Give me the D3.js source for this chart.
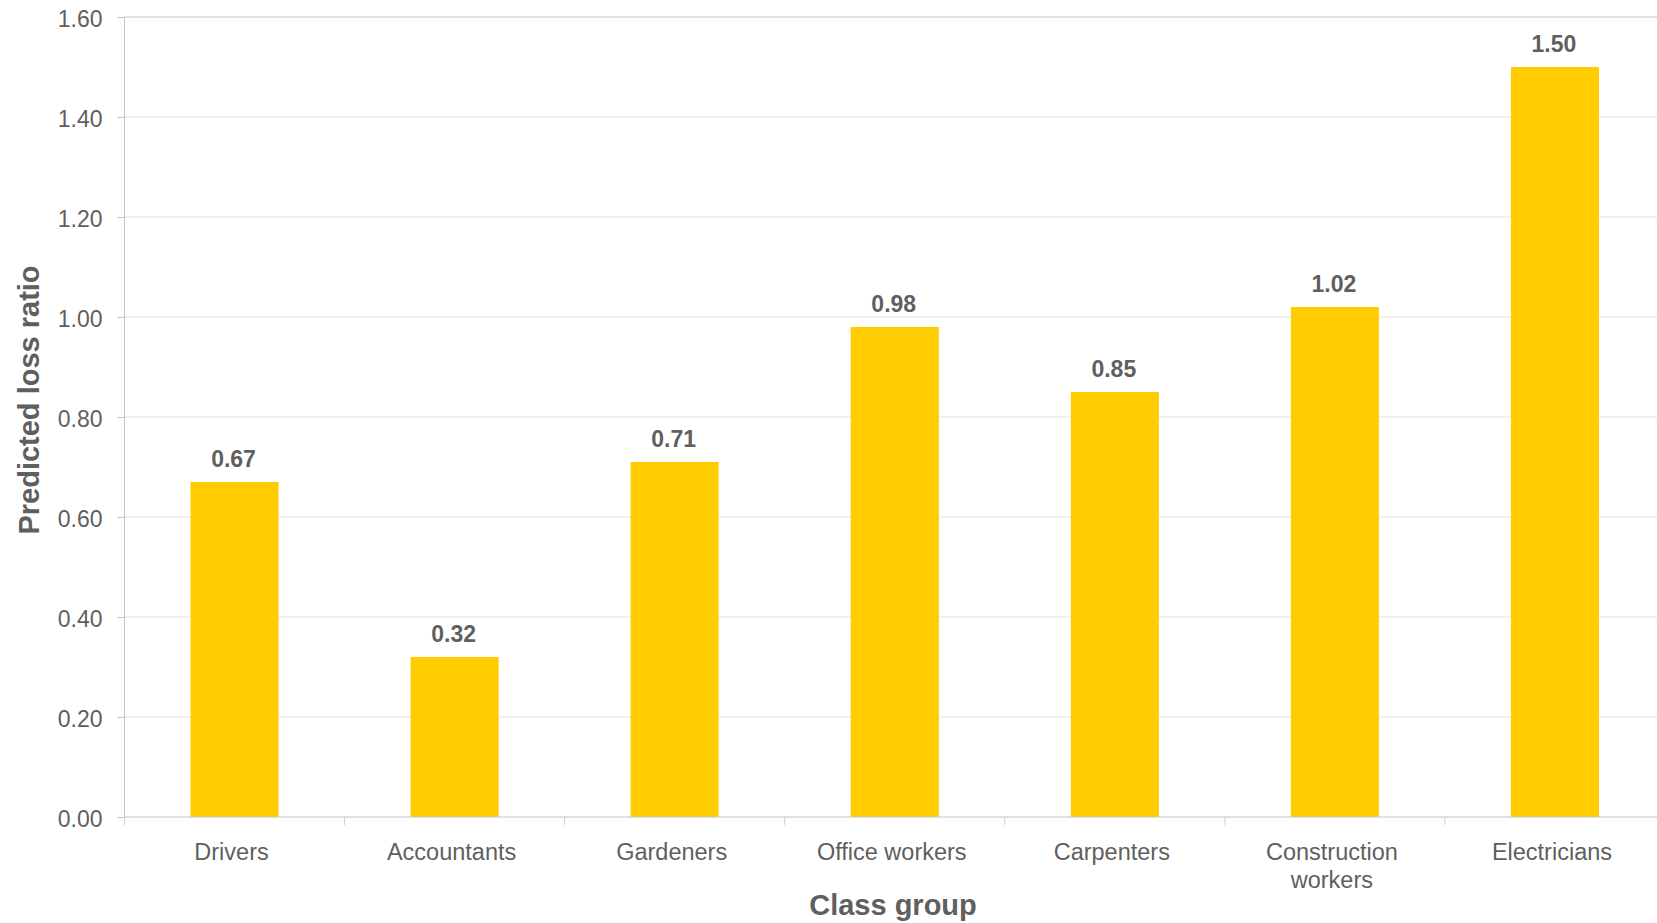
<!DOCTYPE html>
<html lang="en">
<head>
<meta charset="UTF-8">
<title>Predicted loss ratio by class group</title>
<script src="https://d3js.org/d3.v7.min.js"></script>
<style>
  html, body { margin: 0; padding: 0; background: #fff; }
  svg text { font-family: "Liberation Sans", Arial, sans-serif; fill: #5f5f5f; }
</style>
</head>
<body>
<div id="chart"></div>
<script>
    // data
    const categories = ["Drivers", "Accountants", "Gardeners", "Office workers", "Carpenters", "Construction workers", "Electricians"];
    const lossRatio = [0.67, 0.32, 0.71, 0.98, 0.85, 1.02, 1.50];
    const yTicks = [0, 0.2, 0.4, 0.6, 0.8, 1.0, 1.2, 1.4, 1.6];

    const width = 1657, height = 923;
    const plotLeft = 124.5, plotRight = 1665, plotTop = 17, plotBottom = 817;

    const svg = d3.select("#chart").append("svg")
        .attr("width", width)
        .attr("height", height);

    const x = d3.scaleBand().domain(categories).range([plotLeft, plotRight]).padding(0);
    const y = d3.scaleLinear().domain([0, 1.6]).range([plotBottom, plotTop]);

    // gridlines
    svg.append("g")
        .selectAll("line")
        .data(yTicks.slice(1))
        .enter().append("line")
        .attr("x1", plotLeft).attr("x2", width)
        .attr("y1", d => y(d)).attr("y2", d => y(d))
        .attr("stroke", (d, i) => i === yTicks.length - 2 ? "#c4c4c4" : "#e3e3e3")
        .attr("stroke-width", 1);

    // y axis
    const yAxis = svg.append("g")
        .attr("transform", `translate(${plotLeft},0)`)
        .call(d3.axisLeft(y).tickValues(yTicks).tickFormat(d3.format(".2f")).tickSize(7).tickPadding(15));
    yAxis.select(".domain").attr("stroke", "#c4c4c4").attr("d", `M0,${plotTop}V${plotBottom + 8}`);
    yAxis.selectAll(".tick line").attr("stroke", "#c4c4c4");
    yAxis.selectAll(".tick text")
        .attr("font-size", "23px")
        .attr("dy", "0.4em")
        .style("fill", "#5f5f5f");

    // bars
    const barW = x.bandwidth() * 0.4;
    svg.append("g")
        .selectAll("rect")
        .data(categories)
        .enter().append("rect")
        .attr("x", d => x(d) + x.bandwidth() * 0.3)
        .attr("y", (d, i) => y(lossRatio[i]))
        .attr("width", barW)
        .attr("height", (d, i) => y(0) - y(lossRatio[i]))
        .attr("fill", "#ffcc00");

    // value labels
    svg.append("g")
        .selectAll("text")
        .data(categories)
        .enter().append("text")
        .attr("x", d => x(d) + x.bandwidth() / 2 - 1)
        .attr("y", (d, i) => y(lossRatio[i]) - 15)
        .attr("text-anchor", "middle")
        .attr("font-size", "23px")
        .attr("font-weight", "bold")
        .text((d, i) => lossRatio[i].toFixed(2));

    // x axis baseline and ticks between bands
    svg.append("line")
        .attr("x1", plotLeft).attr("x2", width)
        .attr("y1", plotBottom).attr("y2", plotBottom)
        .attr("stroke", "#c4c4c4");

    svg.append("g")
        .selectAll("line")
        .data(categories)
        .enter().append("line")
        .attr("x1", d => x(d)).attr("x2", d => x(d))
        .attr("y1", plotBottom).attr("y2", plotBottom + 8)
        .attr("stroke", "#d0d0d0");

    // category labels, wrapped when too wide
    const catLabel = svg.append("g")
        .selectAll("text")
        .data(categories)
        .enter().append("text")
        .attr("x", d => x(d) + x.bandwidth() / 2 - 3)
        .attr("y", 860)
        .attr("text-anchor", "middle")
        .attr("font-size", "23.5px");

    catLabel.each(function (d) {
        const t = d3.select(this);
        const parts = d.length > 16 ? d.split(" ") : [d];
        parts.forEach((p, i) => {
            t.append("tspan")
                .attr("x", x(d) + x.bandwidth() / 2 - 3)
                .attr("dy", i === 0 ? 0 : 28)
                .text(p);
        });
    });

    // axis titles
    svg.append("text")
        .attr("x", 893)
        .attr("y", 915)
        .attr("text-anchor", "middle")
        .attr("font-size", "29px")
        .attr("font-weight", "bold")
        .text("Class group");

    svg.append("text")
        .attr("transform", "translate(39,400) rotate(-90)")
        .attr("text-anchor", "middle")
        .attr("font-size", "29px")
        .attr("font-weight", "bold")
        .text("Predicted loss ratio");
</script>
</body>
</html>
